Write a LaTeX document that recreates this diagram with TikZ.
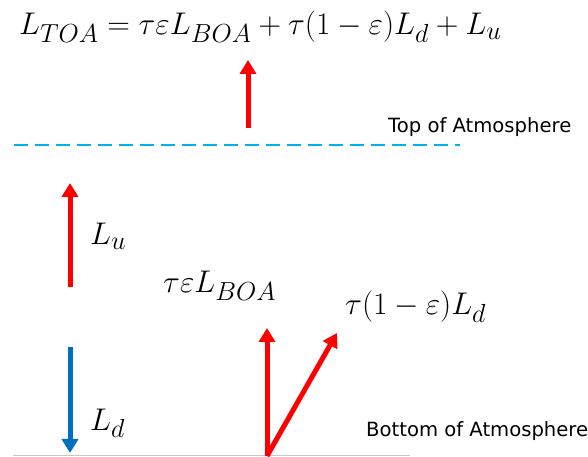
\documentclass[tikz,border=0pt]{standalone}
\usepackage{graphicx}
\usepackage{fontspec}
\newfontfamily\labelfont{DejaVu Sans}
\usetikzlibrary{arrows.meta}
\definecolor{arrred}{HTML}{FF0000}
\definecolor{arrblue}{HTML}{0070C0}
\definecolor{dashcyan}{HTML}{00B0F0}
\definecolor{groundgray}{HTML}{C8C8C8}
\newcommand\mathtxt[1]{\scalebox{1.26}{\fontsize{24.88}{30}\selectfont$#1$}}
\tikzset{
  flux/.style={line width=5pt,-{Triangle[width=16pt,length=14pt]}},
  mathlbl/.style={anchor=base west,inner sep=0pt},
  textlbl/.style={anchor=base west,inner sep=0pt,font=\labelfont\fontsize{19.6}{23}\selectfont},
}
\begin{document}
\begin{tikzpicture}[x=1pt,y=1pt]
\useasboundingbox (0,0) rectangle (588,457);
% equation
\node[mathlbl] (eq) at (19,422) {\mathtxt{L_{TOA} = \tau\varepsilon L_{BOA} + \tau(1-\varepsilon)L_d + L_u}};
% levels
\coordinate (toaL) at (14,312);
\coordinate (toaR) at (460,312);
\draw[dashcyan,line width=2.2pt,dash pattern=on 14pt off 7pt] (toaL) -- (toaR);
\node[textlbl] (toa) at (388,324) {Top of Atmosphere};
\coordinate (boaL) at (13,1.2);
\coordinate (boaR) at (410,1.2);
\draw[groundgray,line width=1.2pt] (boaL) -- (boaR);
\node[textlbl] (boa) at (366,20) {Bottom of Atmosphere};
% top arrow
\coordinate (topS) at (248,329);
\coordinate (topE) at (248,397);
\draw[flux,arrred] (topS) -- (topE);
% upwelling
\coordinate (luS) at (70,170);
\coordinate (luE) at (70,274);
\draw[flux,arrred] (luS) -- (luE);
\node[mathlbl] (lu) at (90,212) {\mathtxt{L_u}};
% downwelling
\coordinate (ldS) at (70,110);
\coordinate (ldE) at (70,4);
\draw[flux,arrblue] (ldS) -- (ldE);
\node[mathlbl] (ld) at (90,27) {\mathtxt{L_d}};
% surface
\coordinate (surf) at (267,1);
\coordinate (emE) at (267,129);
\coordinate (rfE) at (337,124);
\draw[flux,arrred] (surf) -- (emE);
\draw[flux,arrred] (surf) -- (rfE);
\node[mathlbl] (em) at (163,164) {\mathtxt{\tau\varepsilon L_{BOA}}};
\node[mathlbl] (rf) at (345,142) {\mathtxt{\tau(1-\varepsilon)L_d}};
\end{tikzpicture}
\end{document}
